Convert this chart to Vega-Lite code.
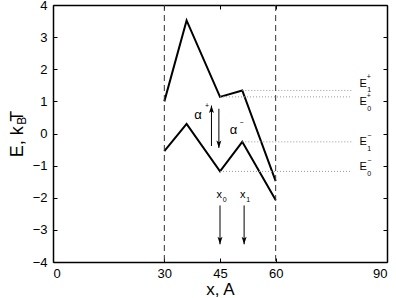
{
  "$schema": "https://vega.github.io/schema/vega-lite/v6.json",
  "width": 334,
  "height": 257,
  "autosize": {"type": "none"},
  "padding": {"left": 53, "top": 5, "right": 9, "bottom": 36},
  "config": {
    "font": "Liberation Sans",
    "view": {"stroke": null},
    "axis": {
      "grid": false,
      "domainColor": "black",
      "domainWidth": 1.5,
      "tickColor": "black",
      "tickWidth": 1,
      "tickSize": -4,
      "labelColor": "black",
      "titleColor": "black",
      "labelFont": "Liberation Sans",
      "titleFont": "Liberation Sans",
      "labelFontSize": 13,
      "titleFontSize": 17,
      "titleFontWeight": "normal"
    }
  },
  "datasets": {
    "curves": [
      {"series": "plus", "x": 30, "E": 1.0},
      {"series": "plus", "x": 36, "E": 3.52},
      {"series": "plus", "x": 45, "E": 1.14},
      {"series": "plus", "x": 51, "E": 1.34},
      {"series": "plus", "x": 60, "E": -1.48},
      {"series": "minus", "x": 30, "E": -0.55},
      {"series": "minus", "x": 36, "E": 0.3},
      {"series": "minus", "x": 45, "E": -1.18},
      {"series": "minus", "x": 51, "E": -0.26},
      {"series": "minus", "x": 60, "E": -2.07}
    ],
    "vlines": [{"x": 30}, {"x": 60}],
    "levels": [
      {"name": "E1+", "x": 51, "x2": 80.4, "E": 1.34},
      {"name": "E0+", "x": 45, "x2": 80.4, "E": 1.14},
      {"name": "E1-", "x": 51, "x2": 80.4, "E": -0.26},
      {"name": "E0-", "x": 45, "x2": 80.4, "E": -1.18}
    ],
    "arrows": [
      {"name": "alpha+", "x": 42.7, "from": -0.39, "to": 0.87},
      {"name": "alpha-", "x": 44.7, "from": 0.77, "to": -0.45},
      {"name": "x0", "x": 45, "from": -2.24, "to": -3.45},
      {"name": "x1", "x": 51.5, "from": -2.24, "to": -3.45}
    ],
    "bigText": [
      {"t": "E", "x": 83.6, "E": 1.53},
      {"t": "E", "x": 83.6, "E": 0.97},
      {"t": "E", "x": 83.6, "E": -0.28},
      {"t": "E", "x": 83.6, "E": -1.057},
      {"t": "x", "x": 44.83, "E": -1.9},
      {"t": "x", "x": 51.1, "E": -1.9}
    ],
    "alphaText": [
      {"t": "α", "x": 39.04, "E": 0.575},
      {"t": "α", "x": 48.65, "E": 0.124}
    ],
    "smallText": [
      {"t": "+", "x": 85.1, "E": 1.75},
      {"t": "1", "x": 85.2, "E": 1.35},
      {"t": "+", "x": 85.1, "E": 1.16},
      {"t": "0", "x": 85.2, "E": 0.77},
      {"t": "−", "x": 85.2, "E": -0.078},
      {"t": "1", "x": 85.2, "E": -0.48},
      {"t": "−", "x": 85.2, "E": -0.855},
      {"t": "0", "x": 85.2, "E": -1.26},
      {"t": "+", "x": 41.54, "E": 0.87},
      {"t": "−", "x": 50.8, "E": 0.333},
      {"t": "0", "x": 46.3, "E": -2.07},
      {"t": "1", "x": 52.58, "E": -2.07}
    ],
    "titleSub": [
      {"t": "B", "x": -8.4, "E": 0.4}
    ]
  },
  "resolve": {"axis": {"x": "independent", "y": "independent"}},
  "layer": [
    {
      "data": {"name": "curves"},
      "mark": {"type": "line", "color": "black", "strokeWidth": 2},
      "encoding": {
        "x": {"field": "x", "type": "quantitative", "scale": {"domain": [0, 90], "nice": false},
              "axis": {"orient": "bottom", "values": [0, 30, 45, 60, 90], "title": "x, A", "labelPadding": 9, "titlePadding": 1}},
        "y": {"field": "E", "type": "quantitative", "scale": {"domain": [-4, 4], "nice": false},
              "axis": {"orient": "left", "values": [-4, -3, -2, -1, 0, 1, 2, 3, 4], "title": "E, k   T", "titleFontSize": 18, "labelPadding": 10, "titlePadding": 6}},
        "detail": {"field": "series"}
      }
    },
    {
      "data": {"name": "levels"},
      "mark": {"type": "rule", "color": "#999999", "strokeWidth": 1, "strokeDash": [1, 2]},
      "encoding": {
        "x": {"field": "x", "type": "quantitative", "scale": {"domain": [0, 90], "nice": false},
              "axis": {"orient": "top", "values": [0, 30, 45, 60, 90], "labels": false, "title": null}},
        "x2": {"field": "x2"},
        "y": {"field": "E", "type": "quantitative", "scale": {"domain": [-4, 4], "nice": false},
              "axis": {"orient": "right", "values": [-4, -3, -2, -1, 0, 1, 2, 3, 4], "labels": false, "title": null}}
      }
    },
    {
      "data": {"name": "vlines"},
      "mark": {"type": "rule", "color": "#333333", "strokeWidth": 1, "strokeDash": [6, 4]},
      "encoding": {
        "x": {"field": "x", "type": "quantitative", "scale": {"domain": [0, 90], "nice": false}, "axis": null}
      }
    },
    {
      "data": {"name": "arrows"},
      "mark": {"type": "rule", "color": "black", "strokeWidth": 1},
      "encoding": {
        "x": {"field": "x", "type": "quantitative", "scale": {"domain": [0, 90], "nice": false}, "axis": null},
        "y": {"field": "from", "type": "quantitative", "scale": {"domain": [-4, 4], "nice": false}, "axis": null},
        "y2": {"field": "to"}
      }
    },
    {
      "data": {"name": "arrows"},
      "transform": [{"filter": "datum.to < datum.from"}],
      "mark": {"type": "point", "filled": true, "color": "black", "opacity": 1, "size": 100,
               "shape": "M0,0L-0.5,-1.5L0,-1.15L0.5,-1.5Z"},
      "encoding": {
        "x": {"field": "x", "type": "quantitative", "scale": {"domain": [0, 90], "nice": false}, "axis": null},
        "y": {"field": "to", "type": "quantitative", "scale": {"domain": [-4, 4], "nice": false}, "axis": null}
      }
    },
    {
      "data": {"name": "arrows"},
      "transform": [{"filter": "datum.to > datum.from"}],
      "mark": {"type": "point", "filled": true, "color": "black", "opacity": 1, "size": 100,
               "shape": "M0,0L-0.5,1.5L0,1.15L0.5,1.5Z"},
      "encoding": {
        "x": {"field": "x", "type": "quantitative", "scale": {"domain": [0, 90], "nice": false}, "axis": null},
        "y": {"field": "to", "type": "quantitative", "scale": {"domain": [-4, 4], "nice": false}, "axis": null}
      }
    },
    {
      "data": {"name": "bigText"},
      "mark": {"type": "text", "font": "Liberation Sans", "fontSize": 11, "color": "black", "align": "center", "baseline": "middle"},
      "encoding": {
        "x": {"field": "x", "type": "quantitative", "scale": {"domain": [0, 90], "nice": false}, "axis": null},
        "y": {"field": "E", "type": "quantitative", "scale": {"domain": [-4, 4], "nice": false}, "axis": null},
        "text": {"field": "t"}
      }
    },
    {
      "data": {"name": "alphaText"},
      "mark": {"type": "text", "font": "Liberation Sans", "fontSize": 13, "color": "black", "align": "center", "baseline": "middle"},
      "encoding": {
        "x": {"field": "x", "type": "quantitative", "scale": {"domain": [0, 90], "nice": false}, "axis": null},
        "y": {"field": "E", "type": "quantitative", "scale": {"domain": [-4, 4], "nice": false}, "axis": null},
        "text": {"field": "t"}
      }
    },
    {
      "data": {"name": "smallText"},
      "mark": {"type": "text", "font": "Liberation Sans", "fontSize": 7, "color": "black", "align": "center", "baseline": "middle"},
      "encoding": {
        "x": {"field": "x", "type": "quantitative", "scale": {"domain": [0, 90], "nice": false}, "axis": null},
        "y": {"field": "E", "type": "quantitative", "scale": {"domain": [-4, 4], "nice": false}, "axis": null},
        "text": {"field": "t"}
      }
    },
    {
      "data": {"name": "titleSub"},
      "mark": {"type": "text", "font": "Liberation Sans", "fontSize": 12, "color": "black", "align": "center", "baseline": "middle", "angle": 270},
      "encoding": {
        "x": {"field": "x", "type": "quantitative", "scale": {"domain": [0, 90], "nice": false}, "axis": null},
        "y": {"field": "E", "type": "quantitative", "scale": {"domain": [-4, 4], "nice": false}, "axis": null},
        "text": {"field": "t"}
      }
    }
  ]
}
